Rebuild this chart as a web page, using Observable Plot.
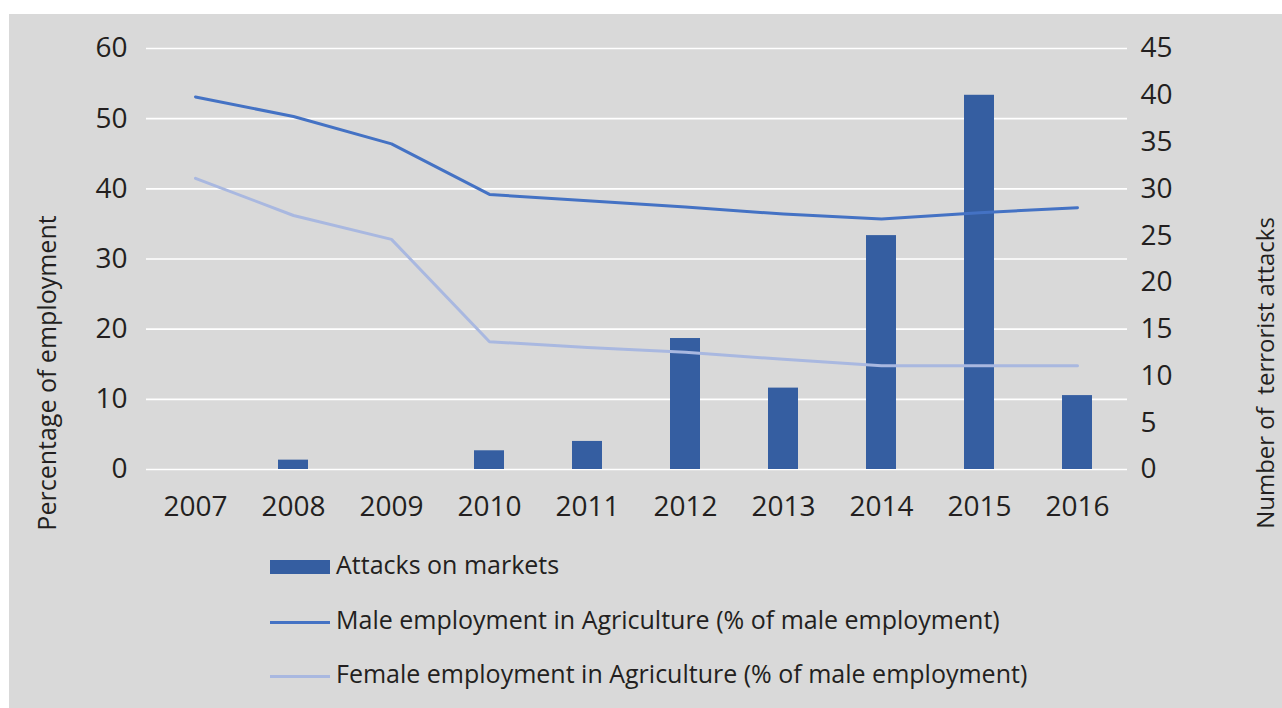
<!DOCTYPE html>
<html><head><meta charset="utf-8">
<script src="https://cdn.jsdelivr.net/npm/d3@7"></script>
<script src="https://cdn.jsdelivr.net/npm/@observablehq/plot@0.6"></script>
<style>
body{margin:0;background:#fff;font-family:"Open Sans",sans-serif;}
#fig{position:absolute;left:9px;top:14px;width:1273px;height:694px;background:#d9d9d9;overflow:hidden;}
#chart{position:absolute;left:0;top:0;}
.leg{position:absolute;left:261px;font-size:25px;color:#231f20;line-height:1;white-space:nowrap;}
.leg .sw{position:absolute;left:0;width:60px;}
.leg span.t{position:absolute;left:66px;top:-15px;}
</style></head><body><div id="fig"><div id="chart"></div><div id="legend"></div></div>
<script>
const years = ["2007","2008","2009","2010","2011","2012","2013","2014","2015","2016"];
const attacks = [0, 1, 0, 2, 3, 14, 8.7, 25, 40, 7.9];
const male = [53.1, 50.3, 46.4, 39.2, 38.3, 37.4, 36.4, 35.7, 36.6, 37.3];
const female = [41.5, 36.2, 32.8, 18.2, 17.4, 16.7, 15.7, 14.8, 14.8, 14.8];
const leftTicks = [0, 10, 20, 30, 40, 50, 60];
const rightTicks = [0, 5, 10, 15, 20, 25, 30, 35, 40, 45];
const leftTitle = "Percentage of employment";
const rightTitle = "Number of  terrorist attacks";
const seriesNames = ["Attacks on markets", "Male employment in Agriculture (% of male employment)", "Female employment in Agriculture (% of male employment)"];
const colors = {bar: "#355ea1", male: "#4472c4", female: "#a9b8e0"};

const leftMax = 60, rightMax = 45;
const k = leftMax / rightMax;
const rows = years.map((y, i) => ({year: y, attacks: attacks[i], male: male[i], female: female[i]}));

const chart = Plot.plot({
  width: 1273,
  height: 530,
  marginLeft: 137,
  marginRight: 155,
  marginTop: 34,
  marginBottom: 75,
  style: {fontFamily: "Open Sans", fontSize: "28px", color: "#231f20", background: "transparent", overflow: "visible"},
  x: {domain: years, paddingInner: 0.69, paddingOuter: 0.345, label: null},
  y: {domain: [0, leftMax], label: null},
  marks: [
    Plot.ruleY(leftTicks, {stroke: "white", strokeWidth: 1.6}),
    Plot.barY(rows, {x: "year", y: d => d.attacks * k, fill: colors.bar}),
    Plot.line(rows, {x: "year", y: "male", stroke: colors.male, strokeWidth: 3}),
    Plot.line(rows, {x: "year", y: "female", stroke: colors.female, strokeWidth: 3}),
    Plot.axisY(leftTicks, {anchor: "left", tickSize: 0, tickPadding: 19, label: null, fontSize: 28}),
    Plot.axisY(rightTicks.map(v => v * k), {anchor: "right", tickSize: 0, tickPadding: 13, label: null, fontSize: 28, tickFormat: d => Math.round(d / k)}),
    Plot.axisX({tickSize: 0, tickPadding: 27, label: null, fontSize: 28}),
    Plot.text([leftTitle], {frameAnchor: "left", text: d => d, rotate: -90, dx: -99, dy: 114, fontSize: 25, textAnchor: "middle", lineAnchor: "middle", fill: "#231f20"}),
    Plot.text([rightTitle], {frameAnchor: "right", text: d => d, rotate: -90, dx: 139, dy: 114, fontSize: 24, textAnchor: "middle", lineAnchor: "middle", fill: "#231f20"})
  ]
});
document.getElementById("chart").appendChild(chart);

const legend = document.getElementById("legend");
const legY = [553, 608, 662];
const legKinds = [{c: colors.bar, h: 14}, {c: colors.male, h: 3}, {c: colors.female, h: 3}];
seriesNames.forEach((name, i) => {
  const d = document.createElement("div");
  d.className = "leg";
  d.style.top = legY[i] + "px";
  const sw = document.createElement("div");
  sw.className = "sw";
  sw.style.background = legKinds[i].c;
  sw.style.height = legKinds[i].h + "px";
  sw.style.top = (-legKinds[i].h / 2) + "px";
  const t = document.createElement("span");
  t.className = "t";
  t.textContent = name;
  d.appendChild(sw); d.appendChild(t);
  legend.appendChild(d);
});
</script>
</body></html>
